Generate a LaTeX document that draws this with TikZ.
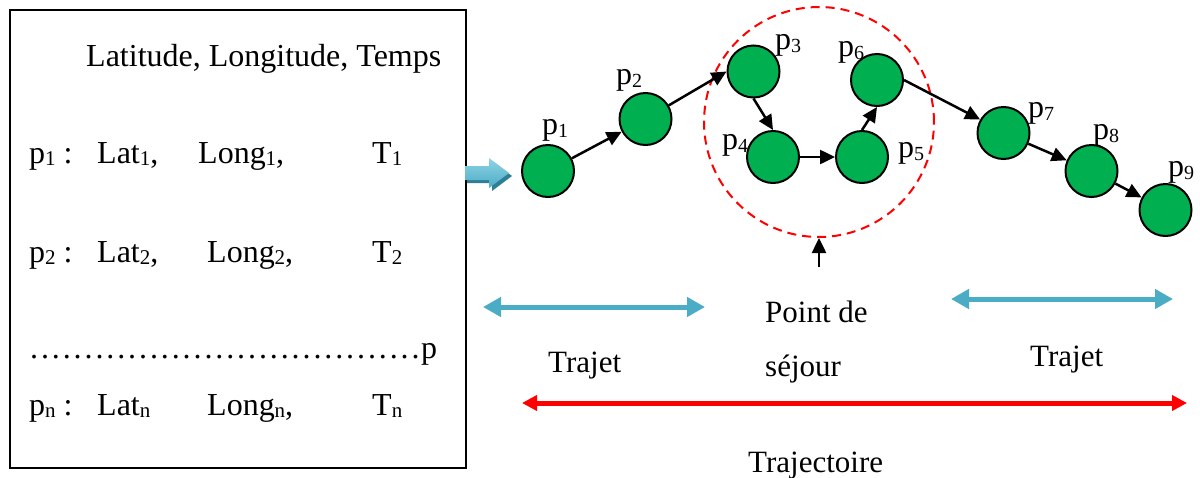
\documentclass[tikz,border=0pt]{standalone}
\usepackage{fontspec}
\setmainfont{Liberation Serif}
\usetikzlibrary{arrows.meta}
\definecolor{ptgreen}{HTML}{00B050}
\definecolor{tblue}{HTML}{4BACC6}
\definecolor{tbluedark}{HTML}{2E7F96}
\definecolor{tbluelight}{HTML}{8FD3E4}
\newcommand\sbs[1]{\raisebox{-2.5pt}{\fontsize{21}{21}\selectfont #1}}
\newcommand\lsb[1]{\raisebox{-3pt}{\fontsize{20}{20}\selectfont #1}}
\newcommand\dd{\makebox[10.9pt]{.}}
\tikzset{
  boxtxt/.style={anchor=base west, inner sep=0pt, font=\fontsize{32}{38}\selectfont},
  lbltxt/.style={anchor=base west, inner sep=0pt, font=\fontsize{31}{37}\selectfont},
  ptlbl/.style={anchor=base west, inner sep=0pt, font=\fontsize{32}{38}\selectfont},
  pt/.style={circle, draw=black, line width=2pt, fill=ptgreen, minimum size=52pt, inner sep=0pt},
  link/.style={line width=2.5pt, -{Triangle[length=15pt,width=14pt]}},
  bluearr/.style={draw=tblue, line width=5pt, {Triangle[length=18pt,width=19pt]}-{Triangle[length=18pt,width=19pt]}},
  redarr/.style={draw=red, line width=5pt, {Triangle[length=15pt,width=15pt]}-{Triangle[length=15pt,width=15pt]}}
}
\begin{document}
\begin{tikzpicture}[x=1pt,y=-1pt]
\useasboundingbox (0,0) rectangle (1200,477);
% data box
\node[draw=black, line width=2pt, minimum width=456pt, minimum height=458pt, inner sep=0pt, anchor=north west] (box) at (9,9) {};
\node[boxtxt] (hdr) at (86,66) {Latitude, Longitude, Temps};
\node[boxtxt] (r1a) at (29,163) {p\sbs{1} :};
\node[boxtxt] (r1b) at (97,163) {Lat\sbs{1},};
\node[boxtxt] (r1c) at (198,163) {Long\sbs{1},};
\node[boxtxt] (r1d) at (372,163) {T\sbs{1}};
\node[boxtxt] (r2a) at (29,262) {p\sbs{2} :};
\node[boxtxt] (r2b) at (97,262) {Lat\sbs{2},};
\node[boxtxt] (r2c) at (207,262) {Long\sbs{2},};
\node[boxtxt] (r2d) at (372,262) {T\sbs{2}};
\node[boxtxt] (dots) at (28.5,358) {\dd\dd\dd\dd\dd\dd\dd\dd\dd\dd\dd\dd\dd\dd\dd\dd\dd\dd\dd\dd\dd\dd\dd\dd\dd\dd\dd\dd\dd\dd\dd\dd\dd\dd\dd\dd p};
\node[boxtxt] (rna) at (29,415) {p\sbs{n} :};
\node[boxtxt] (rnb) at (97,415) {Lat\sbs{n}};
\node[boxtxt] (rnc) at (207,415) {Long\sbs{n},};
\node[boxtxt] (rnd) at (372,415) {T\sbs{n}};
% block arrow
\fill[tbluedark] (467,169) -- (492,169) -- (492,161) -- (512,176) -- (492,191) -- (492,183) -- (467,183) -- cycle;
\shade[top color=tbluelight, bottom color=tblue] (465,166) -- (489,166) -- (489,158) -- (509,173) -- (489,188) -- (489,180) -- (465,180) -- cycle;
% stay circle
\node[circle, draw=red, line width=2pt, dash pattern=on 9pt off 6pt, minimum size=230pt, inner sep=0pt] (stay) at (819,122) {};
% points
\node[pt] (p1) at (548,171) {};
\node[pt] (p2) at (645.5,119) {};
\node[pt] (p3) at (753.5,71.5) {};
\node[pt] (p4) at (773,157) {};
\node[pt] (p5) at (862,157) {};
\node[pt] (p6) at (877,80) {};
\node[pt] (p7) at (1003.5,133) {};
\node[pt] (p8) at (1091.5,171) {};
\node[pt] (p9) at (1165.5,210) {};
% point labels
\node[ptlbl] (l1) at (542,134) {p\lsb{1}};
\node[ptlbl] (l2) at (616,84) {p\lsb{2}};
\node[ptlbl] (l3) at (775,49) {p\lsb{3}};
\node[ptlbl] (l4) at (722,149) {p\lsb{4}};
\node[ptlbl] (l5) at (898,157) {p\lsb{5}};
\node[ptlbl] (l6) at (838,56) {p\lsb{6}};
\node[ptlbl] (l7) at (1028,117) {p\lsb{7}};
\node[ptlbl] (l8) at (1093,139) {p\lsb{8}};
\node[ptlbl] (l9) at (1168,176) {p\lsb{9}};
% links
\draw[link] (p1) -- (p2);
\draw[link] (p2) -- (p3.west);
\draw[link] (p3.south) -- (p4.north);
\draw[link] (p4.east) -- (p5.west);
\draw[link] (p5.north) -- (p6.south);
\draw[link] (p6.east) -- (p7.150);
\draw[link] (p7) -- (p8);
\draw[link] (p8) -- (p9);
\coordinate (upst) at (819,267);
\draw[link] (upst) -- (stay.south);
% spans
\coordinate (b1l) at (483,307);
\coordinate (b1r) at (705,307);
\coordinate (b2l) at (951,299);
\coordinate (b2r) at (1173,299);
\coordinate (rl) at (522,403);
\coordinate (rr) at (1187,403);
\draw[bluearr] (b1l) -- (b1r);
\draw[bluearr] (b2l) -- (b2r);
\draw[redarr] (rl) -- (rr);
% texts
\node[lbltxt] (tr1) at (548,372) {Trajet};
\node[lbltxt] (pd1) at (765,322) {Point de};
\node[lbltxt] (pd2) at (765,376) {séjour};
\node[lbltxt] (tr2) at (1030,366) {Trajet};
\node[lbltxt] (trj) at (748,472) {Trajectoire};
\end{tikzpicture}
\end{document}
